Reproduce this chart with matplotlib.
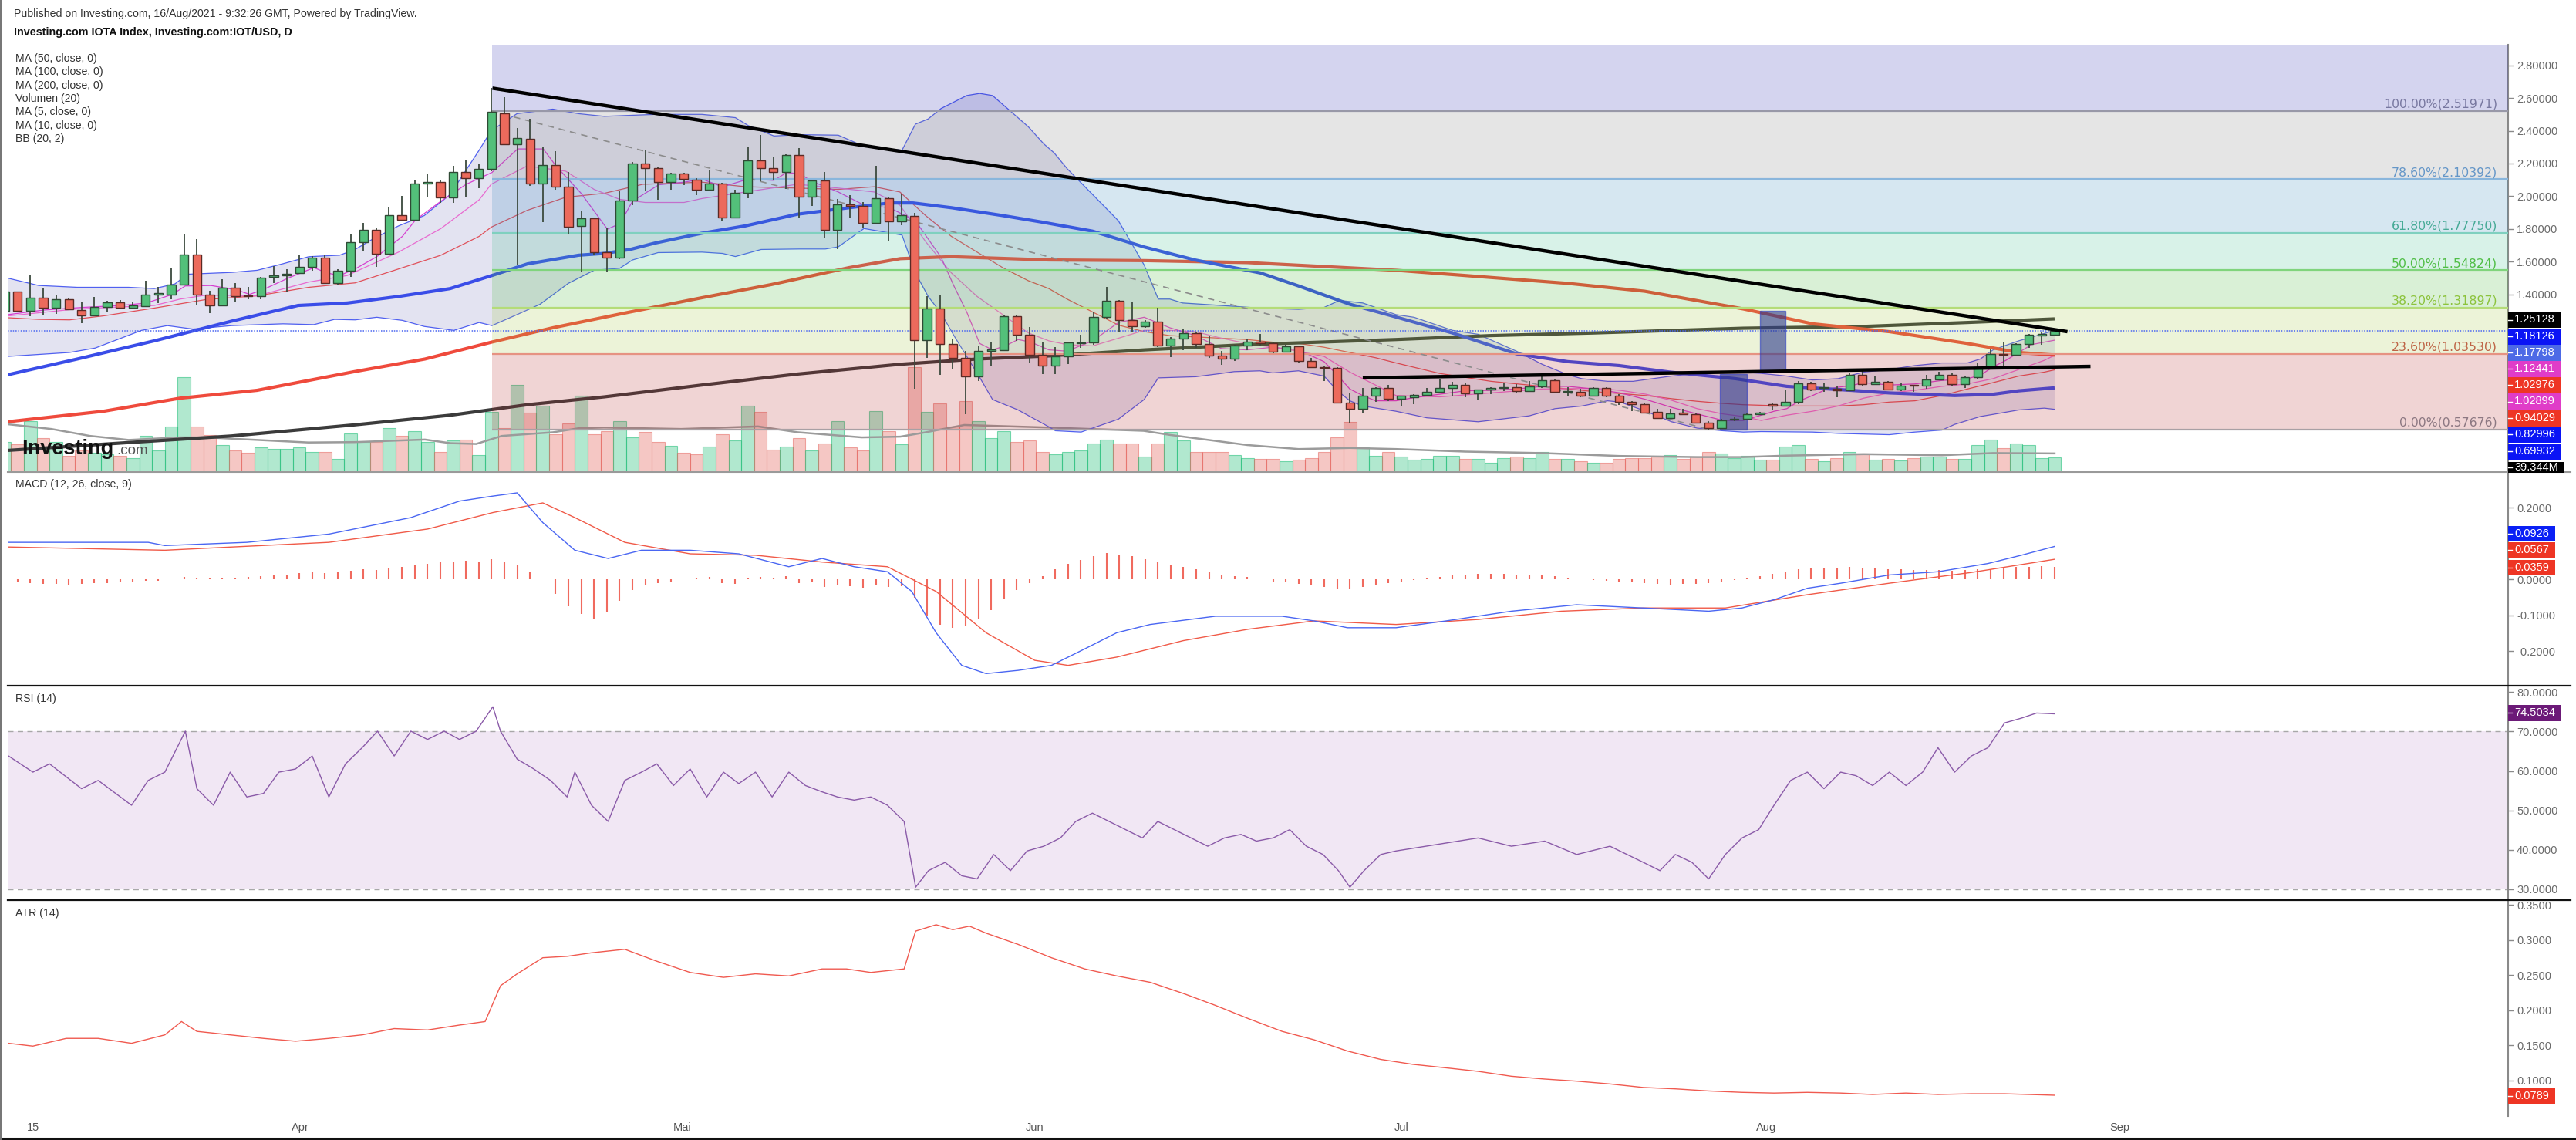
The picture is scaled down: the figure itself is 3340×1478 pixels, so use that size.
import numpy as np
import matplotlib
matplotlib.use("Agg")
import matplotlib.pyplot as plt
from matplotlib.patches import Rectangle
from matplotlib.lines import Line2D
import matplotlib.transforms as mtransforms

plt.rcParams['font.family'] = ['Liberation Sans', 'DejaVu Sans']

# ---------------- data (day index: 0 = 1 Mar 2021) ----------------
days = np.arange(8, 169)
opens = [1.301,1.417,1.301,1.380,1.321,1.369,1.305,1.274,1.325,1.352,1.320,1.329,1.401,1.401,1.460,1.646,1.401,1.333,1.443,1.392,
         1.388,1.506,1.516,1.532,1.568,1.624,1.471,1.545,1.720,1.795,1.651,1.886,1.858,2.077,2.089,1.994,2.148,2.109,2.166,2.504,
         2.320,2.352,2.077,2.191,2.058,1.819,1.865,1.659,1.627,1.975,2.201,2.172,2.089,2.140,2.102,2.038,2.077,1.871,2.021,2.218,
         2.172,2.148,2.252,1.999,2.094,1.795,1.949,1.941,1.839,1.987,1.846,1.878,1.122,1.315,1.097,1.011,0.898,1.057,1.062,1.269,
         1.153,1.030,0.966,1.022,1.101,1.109,1.264,1.360,1.242,1.205,1.235,1.086,1.133,1.165,1.097,1.025,1.006,1.086,1.114,1.101,
         1.051,1.082,0.993,0.958,0.950,0.740,0.703,0.783,0.827,0.764,0.775,0.788,0.804,0.831,0.850,0.794,0.820,0.827,0.834,0.812,
         0.839,0.878,0.805,0.807,0.783,0.827,0.783,0.743,0.732,0.684,0.647,0.678,0.671,0.615,0.584,0.635,0.639,0.671,0.730,0.722,
         0.743,0.858,0.827,0.826,0.815,0.910,0.851,0.866,0.820,0.847,0.843,0.883,0.907,0.851,0.894,0.958,1.038,1.030,1.097,1.149,1.153]
highs = [1.436,1.420,1.520,1.436,1.396,1.380,1.352,1.385,1.360,1.364,1.352,1.484,1.444,1.560,1.766,1.739,1.423,1.495,1.468,1.444,
         1.508,1.572,1.556,1.643,1.635,1.640,1.556,1.766,1.839,1.807,1.930,2.002,2.097,2.140,2.097,2.188,2.225,2.201,2.660,2.604,
         2.416,2.472,2.297,2.276,2.150,1.914,1.870,1.803,2.034,2.209,2.281,2.180,2.145,2.145,2.109,2.161,2.081,2.038,2.303,2.376,
         2.239,2.257,2.292,2.097,2.150,1.981,2.007,1.965,2.188,1.994,2.015,1.898,1.388,1.393,1.125,1.054,1.086,1.109,1.272,1.272,
         1.200,1.105,1.078,1.108,1.153,1.296,1.444,1.366,1.356,1.245,1.317,1.141,1.194,1.173,1.146,1.054,1.094,1.129,1.161,1.109,
         1.094,1.089,1.014,0.961,0.955,0.799,0.827,0.834,0.847,0.783,0.791,0.827,0.882,0.866,0.858,0.820,0.834,0.862,0.854,0.870,
         0.914,0.882,0.834,0.823,0.834,0.834,0.791,0.751,0.739,0.700,0.703,0.703,0.674,0.627,0.639,0.652,0.674,0.684,0.735,0.818,
         0.870,0.866,0.862,0.843,0.918,0.934,0.898,0.870,0.858,0.847,0.910,0.926,0.918,0.902,0.982,1.065,1.105,1.101,1.161,1.168,1.192]
lows = [1.293,1.293,1.269,1.277,1.280,1.305,1.224,1.269,1.293,1.312,1.309,1.325,1.348,1.372,1.458,1.340,1.285,1.331,1.356,1.369,
        1.369,1.468,1.420,1.528,1.545,1.468,1.460,1.508,1.664,1.568,1.643,1.855,1.854,1.991,1.959,1.959,1.991,2.050,2.153,2.317,
        1.583,2.062,1.843,2.042,1.768,1.536,1.640,1.536,1.615,1.946,2.032,1.978,2.042,2.067,2.007,2.034,1.850,1.866,1.986,2.093,
        2.097,2.045,1.869,1.941,1.742,1.678,1.869,1.806,1.834,1.728,1.823,0.826,1.014,0.907,0.945,0.671,0.870,0.966,1.057,1.117,
        0.987,0.914,0.914,0.977,1.073,1.094,1.253,1.173,1.168,1.197,1.081,1.019,1.062,1.073,1.014,0.971,0.993,1.058,1.090,1.043,
        1.046,0.982,0.950,0.870,0.735,0.615,0.679,0.743,0.748,0.722,0.732,0.783,0.799,0.780,0.772,0.759,0.791,0.812,0.796,0.807,
        0.831,0.799,0.783,0.775,0.780,0.775,0.727,0.687,0.674,0.639,0.643,0.666,0.611,0.5768,0.580,0.627,0.636,0.668,0.695,0.719,
        0.732,0.812,0.804,0.775,0.812,0.843,0.847,0.815,0.812,0.804,0.823,0.878,0.839,0.831,0.886,0.958,0.963,1.025,1.074,1.094,1.149]
closes = [1.420,1.301,1.380,1.321,1.369,1.309,1.274,1.325,1.352,1.320,1.333,1.401,1.407,1.460,1.646,1.401,1.333,1.443,1.388,1.388,
          1.505,1.519,1.524,1.568,1.624,1.471,1.545,1.720,1.795,1.651,1.886,1.855,2.077,2.089,1.994,2.148,2.109,2.166,2.515,2.320,
          2.355,2.077,2.191,2.058,1.814,1.865,1.659,1.627,1.975,2.201,2.172,2.089,2.140,2.105,2.038,2.077,1.871,2.021,2.218,2.172,
          2.148,2.252,1.999,2.094,1.795,1.949,1.941,1.839,1.987,1.846,1.882,1.122,1.315,1.097,1.014,0.898,1.057,1.065,1.269,1.153,
          1.030,0.966,1.022,1.105,1.109,1.264,1.360,1.242,1.205,1.235,1.086,1.133,1.165,1.097,1.025,1.006,1.086,1.114,1.101,1.051,
          1.082,0.993,0.955,0.950,0.740,0.703,0.783,0.827,0.764,0.780,0.788,0.804,0.831,0.850,0.794,0.818,0.827,0.834,0.812,0.839,
          0.878,0.807,0.812,0.783,0.827,0.783,0.743,0.732,0.679,0.647,0.676,0.671,0.615,0.584,0.631,0.639,0.671,0.678,0.722,0.743,
          0.858,0.820,0.831,0.815,0.910,0.851,0.866,0.820,0.843,0.843,0.883,0.907,0.851,0.894,0.958,1.038,1.030,1.097,1.153,1.157,1.178]
volume = [82,77,140,92,82,44,59,52,49,45,38,100,59,124,261,124,102,74,59,52,68,63,63,68,56,54,36,106,
          82,82,120,100,111,82,56,86,88,47,165,120,238,163,181,104,134,209,104,113,140,95,109,82,72,52,49,
          70,104,87,182,165,61,70,94,59,79,140,68,59,168,111,77,287,165,189,125,195,140,94,111,82,87,56,
          49,54,59,79,88,79,79,43,79,109,86,56,54,54,47,39,36,36,29,34,39,54,95,138,68,45,54,
          43,34,36,45,45,36,36,26,39,43,39,54,36,36,29,25,26,36,39,39,43,47,36,43,56,51,38,
          45,34,34,70,74,36,29,39,54,51,34,36,31,39,43,43,36,36,74,88,65,79,74,39,39.344]

vma_d = [8.24,11.65,14.66,17.67,21.7,23.7,27.7,31.7,35.3,40.8,42.8,44.8,46.8,50.8,52.8,54.8,60.8,66.8,69.9,74.9,
         77.9,79.9,82.9,89.5,96.9,98.9,105,109,113,116.6,122,128,134,140.1,143.7,147.1,153.1,159.2,163.2,168]
vma_v = [131,118,99,88,95,95,88,81,82,89,79,77,99,109,120,122,118,125,109,95,
         97,109,129,122,113,102,74,63,66,63,56,52,44,41,41,45,49,46,52,51]

ma50_d = [8.24,13.66,19.68,25.7,30.9,34.73,38.74,42.76,46.03,48.8,52.8,54.8,56.8,58.8,62.4,65.8,69.85,73.9,77.1,78.9,81.9,85.9,
          88.9,92.9,96.9,100.9,106,109,113,116.3,121,126,130,134,138,143.1,147.1,152.1,155.1,160.2,163.2,165.2,168]
ma50_v = [0.910,1.006,1.117,1.237,1.333,1.348,1.388,1.436,1.516,1.587,1.640,1.651,1.675,1.715,1.774,1.819,1.890,1.930,1.959,1.959,1.930,1.882,
          1.843,1.787,1.691,1.611,1.532,1.452,1.340,1.269,1.165,1.038,0.990,0.966,0.926,0.886,0.839,0.815,0.799,0.783,0.791,0.812,0.830]
ma100_d = [8.24,15.7,21.7,27.7,35.3,40.8,46.0,50.8,56.8,62.4,67.8,73.9,77.9,81.9,89.5,97,105,116.6,122,130,136,143.7,149.1,155.1,161.2,165.2,168]
ma100_v = [0.623,0.687,0.767,0.815,0.929,1.006,1.109,1.197,1.293,1.380,1.460,1.564,1.619,1.631,1.611,1.607,1.595,1.548,1.516,1.468,1.420,1.312,1.221,1.173,1.101,1.046,1.030]
ma200_d = [8.24,17.7,25.7,35.3,42.8,48.8,54.8,62.4,69.85,77.9,83.9,89.5,97,105,116.6,124,132,143.7,153.1,161.2,168]
ma200_v = [0.448,0.496,0.536,0.604,0.663,0.727,0.775,0.847,0.914,0.974,1.006,1.025,1.062,1.094,1.125,1.149,1.165,1.194,1.205,1.229,1.251]

bbu_d = [8.24,10.65,13.66,17.67,19.68,21.29,22.29,25.71,27.71,29.72,31.73,34.14,35.35,36.74,38.74,40.75,42.76,45.03,45.97,47.98,
         50.78,52.8,54.8,58.81,62.42,65.03,66.03,68.04,70.05,73.06,75.07,78.04,79.08,80.08,81.09,83.09,84.1,85.1,86.5,87.9,
         89.1,89.91,90.92,92.92,94.93,96.94,98.04,98.94,99.95,102.96,105.97,108.98,110.98,112.19,114.0,116.6,118.0,121.0,123.0,126.0,
         128.0,130.0,131.1,133.1,135.1,138.1,140.1,143.7,145.1,147.1,149.1,151.1,153.1,155.1,157.1,159.2,161.2,162.2,163.2,165.2,167.2,168.0]
bbu_v = [1.500,1.455,1.444,1.444,1.436,1.465,1.524,1.535,1.548,1.588,1.631,1.640,1.675,1.739,1.819,1.882,2.010,2.281,2.400,2.504,
         2.532,2.504,2.488,2.500,2.500,2.480,2.432,2.368,2.376,2.373,2.305,2.281,2.440,2.472,2.536,2.615,2.628,2.615,2.520,2.424,
         2.320,2.265,2.169,2.010,1.850,1.580,1.372,1.372,1.348,1.333,1.317,1.309,1.321,1.364,1.348,1.277,1.261,1.181,1.157,1.054,
         0.974,0.910,0.886,0.870,0.870,0.902,0.918,0.926,0.918,0.902,0.878,0.886,0.926,0.942,0.966,0.982,0.982,1.006,1.062,1.117,1.162,1.181]
bbl_d = [8.24,13.06,15.06,18.68,20.69,22.69,25.71,29.72,32.13,33.74,35.35,37.04,39.04,40.75,43.06,45.03,46.03,47.98,49.78,51.99,
         54.0,56.0,57.0,59.0,62.42,64.03,65.03,67.04,70.05,72.05,73.06,75.07,78.04,79.08,80.08,81.09,82.09,83.09,84.1,85.1,
         87.1,89.5,90.01,92.02,94.93,96.94,98.04,100.95,102.96,103.96,105.97,106.97,108.98,110.98,111.99,112.99,114.0,116.6,119.0,123.0,
         127.0,129.0,131.1,133.1,134.1,136.1,138.1,140.1,142.1,143.7,145.1,149.1,151.1,155.1,157.1,159.2,160.2,162.2,163.2,165.2,167.2,168.0]
bbl_v = [1.022,1.046,1.073,1.181,1.210,1.189,1.210,1.221,1.216,1.248,1.245,1.261,1.242,1.205,1.181,1.229,1.210,1.277,1.340,1.468,
         1.548,1.560,1.611,1.656,1.659,1.651,1.632,1.675,1.678,1.678,1.691,1.803,1.763,1.532,1.388,1.285,1.149,1.022,0.894,0.759,
         0.695,0.592,0.568,0.560,0.639,0.759,0.891,0.898,0.918,0.929,0.934,0.921,0.934,0.902,0.815,0.751,0.719,0.687,0.647,0.623,
         0.659,0.703,0.719,0.751,0.743,0.687,0.623,0.584,0.568,0.560,0.563,0.560,0.552,0.544,0.560,0.572,0.607,0.655,0.668,0.695,0.706,0.699]
bbm_d = [8.24,10.65,13.06,15.67,19.68,23.70,27.71,31.73,35.35,38.74,42.05,45.03,45.97,48.78,51.79,54.8,57.81,62.42,65.83,69.85,
         73.06,75.87,77.87,79.88,81.89,83.9,85.9,87.9,89.5,90.92,92.92,94.93,96.94,98.94,100.95,104.96,106.97,108.98,110.98,112.99,
         115.0,116.6,120.0,124.0,128.0,132.1,136.1,138.1,140.1,142.1,143.7,147.1,151.1,153.1,155.1,157.1,159.2,161.2,163.2,165.2,167.2,168.0]
bbm_v = [1.258,1.248,1.245,1.269,1.317,1.369,1.392,1.444,1.471,1.556,1.640,1.755,1.811,1.914,1.994,2.018,2.073,2.086,2.058,2.050,
         2.042,2.058,2.026,1.882,1.755,1.659,1.564,1.484,1.436,1.372,1.293,1.213,1.173,1.149,1.141,1.125,1.109,1.101,1.078,1.046,
         1.014,0.982,0.918,0.870,0.839,0.807,0.783,0.764,0.748,0.735,0.727,0.719,0.719,0.727,0.743,0.751,0.783,0.823,0.862,0.902,0.926,0.940]
ma5_d = [8.24,11.05,14.06,17.07,19.08,21.09,22.09,24.10,26.11,27.11,28.12,30.12,32.13,33.14,34.14,35.35,37.04,39.04,40.05,42.05,
         44.02,46.03,48.04,50.04,51.03,52.99,55.04,56.04,57.0,59.05,61.02,62.42,64.03,66.03,68.04,69.04,70.05,71.05,72.05,73.06,
         75.07,77.07,79.08,81.09,82.09,83.09,84.1,85.1,86.1,87.1,88.1,89.5,90.92,92.92,94.93,96.94,98.94,100.95,102.96,104.96,
         106.97,108.98,110.98,111.99,112.99,114.0,115.0,116.6,118.0,120.0,122.0,124.0,126.0,128.0,130.0,132.1,134.1,136.1,138.1,140.1,
         142.1,143.7,145.1,146.1,147.1,148.1,149.1,150.1,151.1,152.1,153.1,155.1,157.1,159.2,161.2,162.2,163.2,164.2,165.2,166.2,167.2,168.0]
ma5_v = [1.277,1.305,1.321,1.333,1.348,1.401,1.452,1.455,1.428,1.401,1.428,1.500,1.564,1.532,1.516,1.556,1.631,1.755,1.854,1.970,
         2.073,2.145,2.289,2.289,2.185,2.018,1.799,1.834,1.970,2.070,2.086,2.105,2.058,2.105,2.097,2.145,2.137,2.089,2.058,2.026,
         1.946,1.930,1.850,1.627,1.452,1.293,1.101,1.062,1.086,1.125,1.109,1.062,1.054,1.117,1.229,1.261,1.197,1.149,1.070,1.062,
         1.078,1.062,0.990,0.910,0.823,0.783,0.751,0.751,0.770,0.791,0.812,0.815,0.823,0.839,0.839,0.823,0.799,0.759,0.711,0.671,
         0.631,0.631,0.663,0.687,0.703,0.751,0.783,0.818,0.834,0.843,0.862,0.847,0.854,0.875,0.886,0.907,0.958,0.998,1.046,1.094,1.109,1.121]
ma10_d = [8.24,13.66,19.68,21.69,23.70,27.71,31.73,34.73,38.74,42.05,45.03,45.97,48.78,51.79,54.0,56.0,58.0,61.02,62.42,65.83,
          69.85,73.06,75.87,77.87,79.88,81.89,83.9,85.9,87.9,89.5,90.92,92.92,94.93,96.94,98.94,100.95,102.96,104.96,106.97,108.98,
          110.98,112.99,115.0,116.6,120.0,124.0,128.0,132.1,134.1,136.1,138.1,140.1,142.1,143.7,145.1,147.1,149.1,151.1,153.1,155.1,
          157.1,159.2,161.2,163.2,165.2,167.2,168.0]
ma10_v = [1.269,1.312,1.333,1.372,1.396,1.392,1.476,1.516,1.659,1.803,1.978,2.073,2.185,2.153,2.042,1.981,1.962,1.962,1.986,2.026,
          2.073,2.050,2.026,1.946,1.723,1.532,1.388,1.277,1.165,1.117,1.094,1.086,1.133,1.181,1.181,1.173,1.133,1.101,1.078,1.054,
          1.022,0.926,0.847,0.783,0.775,0.799,0.823,0.827,0.815,0.791,0.754,0.703,0.671,0.655,0.631,0.663,0.687,0.719,0.767,0.799,
          0.815,0.839,0.854,0.886,0.942,0.998,1.029]

fib_levels = [0.57676, 1.03530, 1.31897, 1.54824, 1.77750, 2.10392, 2.51971]
fib_names = ['0.00%', '23.60%', '38.20%', '50.00%', '61.80%', '78.60%', '100.00%']

macd_d = [8.3,19.2,20.5,26.9,33.3,39.7,43.5,46.1,48.0,50.0,52.5,55.1,57.7,61.5,65.3,69.2,71.8,74.3,76.9,78.8,
          80.7,82.7,84.6,87.1,89.7,92.3,94.8,97.4,102.5,107.7,110.2,112.8,116.6,120.5,125.6,130.7,135.9,141.0,143.6,146.1,
          148.7,151.3,155.1,158.9,162.8,165.4,168.0]
macd_v = [0.104,0.104,0.095,0.104,0.127,0.173,0.219,0.233,0.242,0.159,0.082,0.059,0.082,0.082,0.072,0.036,0.059,0.036,0.022,-0.033,
          -0.148,-0.239,-0.262,-0.253,-0.239,-0.193,-0.148,-0.125,-0.102,-0.102,-0.115,-0.134,-0.134,-0.115,-0.088,-0.070,-0.079,-0.088,-0.079,-0.056,
          -0.024,-0.010,0.013,0.022,0.045,0.068,0.0926]
sig_d = [8.3,20.5,33.3,41.0,46.1,50.0,52.5,56.4,61.5,66.6,71.8,76.9,80.7,84.6,88.4,91.0,94.8,100.0,105.1,110.2,
         116.6,123.0,129.5,135.9,142.3,148.7,155.1,161.5,168.0]
sig_v = [0.091,0.082,0.104,0.141,0.187,0.214,0.173,0.104,0.072,0.068,0.049,0.036,-0.033,-0.148,-0.225,-0.239,-0.216,-0.170,-0.138,-0.115,
         -0.125,-0.111,-0.088,-0.079,-0.079,-0.042,-0.010,0.020,0.0567]
hist = [-0.005,-0.008,-0.010,-0.012,-0.012,-0.013,-0.012,-0.010,-0.010,-0.008,-0.006,-0.004,-0.003,
        0.002,0.008,0.005,0.003,0.004,0.006,
        0.008,0.010,0.012,0.015,0.018,0.020,0.018,0.020,0.025,0.028,0.027,0.033,0.035,0.040,0.045,0.048,0.050,0.052,0.050,0.058,
        0.050,0.040,0.020,0.000,
        -0.040,-0.075,-0.095,-0.110,-0.090,-0.060,
        -0.030,-0.015,-0.010,-0.005,0.000,0.005,0.008,
        -0.010,-0.012,0.005,0.008,0.005,0.010,-0.010,-0.005,-0.020,-0.015,-0.018,-0.022,-0.015,-0.020,-0.018,
        -0.050,-0.100,-0.125,-0.135,-0.130,-0.110,-0.085,-0.055,
        -0.030,-0.010,0.010,0.030,0.045,0.055,
        0.065,0.075,0.070,0.065,0.058,0.050,0.042,
        0.035,0.030,0.022,0.015,0.010,0.008,0.002,-0.005,-0.008,-0.012,-0.015,-0.020,-0.025,-0.025,-0.020,-0.015,
        -0.010,-0.005,-0.002,0.003,0.008,0.012,0.015,0.016,0.017,0.016,0.015,0.014,0.012,0.010,0.006,0.002,-0.002,-0.004,-0.006,-0.008,-0.010,
        -0.012,-0.013,-0.012,-0.012,-0.010,-0.006,-0.002,0.004,
        0.010,0.016,0.022,0.028,0.032,0.034,0.034,0.035,0.034,0.032,0.030,0.028,0.026,0.026,0.026,0.025,0.026,0.028,0.030,0.033,0.035,0.036,0.037,0.036]

rsi_d = [8.3,10.2,11.5,14.0,15.3,17.9,19.2,20.5,22.1,23.0,24.3,25.6,26.9,28.2,29.4,30.7,32.0,33.3,34.6,35.9,
         37.1,38.4,39.7,41.0,42.3,43.5,44.8,46.1,46.7,48.0,49.3,50.6,51.9,52.5,53.8,55.1,56.4,57.7,58.9,60.2,
         61.5,62.8,64.1,65.3,66.6,67.9,69.2,70.5,71.8,73.0,74.3,75.6,76.9,78.2,79.1,80.1,81.4,82.7,83.9,85.2,
         86.5,87.8,89.1,90.4,91.6,92.9,94.2,95.5,96.8,98.0,99.3,100.6,101.9,103.2,104.5,105.7,107.0,108.3,109.6,110.9,
         112.1,113.0,114.1,115.4,116.6,123.0,125.6,128.2,130.7,133.3,135.9,137.2,138.4,139.7,141.0,142.3,143.6,144.9,146.1,147.4,
         148.7,150.0,151.3,152.5,153.8,155.1,156.4,157.7,158.9,160.2,161.5,162.8,164.1,165.4,166.6,168.0]
rsi_v = [63.8,59.7,61.8,55.5,57.6,51.3,57.6,59.7,70.1,55.5,51.3,59.7,53.4,54.3,59.7,60.5,63.8,53.4,61.8,65.9,
         70.1,63.8,70.1,68.0,70.1,68.0,70.1,76.3,70.1,63.0,60.5,57.6,53.4,59.7,51.3,47.2,57.6,59.7,61.8,56.3,
         60.5,53.4,59.7,56.8,59.7,53.4,59.7,56.3,54.7,53.4,52.6,53.4,51.3,47.2,30.5,34.7,36.8,33.4,32.6,38.8,
         34.7,39.7,40.9,43.0,47.2,49.3,47.2,45.1,43.0,47.2,45.1,43.0,40.9,43.0,43.9,42.2,43.0,45.1,40.9,38.8,
         34.7,30.5,34.7,38.8,39.7,43.0,40.9,42.2,38.8,40.9,36.8,34.7,38.8,36.8,32.6,38.8,43.0,45.1,51.3,57.6,
         59.7,55.5,59.7,58.8,56.3,59.7,56.3,59.7,65.9,59.7,63.8,65.9,72.2,73.4,74.7,74.5]

atr_d = [8.3,10.2,12.8,15.3,17.9,20.5,21.8,23.0,25.6,28.2,30.7,33.3,35.9,38.4,41.0,43.5,45.5,46.7,48.0,50.0,
         51.9,53.8,56.4,58.9,61.5,64.1,66.6,69.2,71.8,73.7,75.6,78.2,79.1,80.7,82.0,83.3,84.6,87.1,89.7,92.3,
         94.8,97.4,100.0,102.5,105.1,107.7,110.2,112.8,115.4,117.9,120.5,123.0,125.6,128.2,130.7,133.3,135.9,138.4,141.0,143.6,
         146.1,148.7,151.3,153.8,156.4,158.9,161.5,164.1,168.0]
atr_v = [0.153,0.149,0.160,0.160,0.153,0.165,0.184,0.170,0.165,0.160,0.156,0.160,0.165,0.174,0.172,0.179,0.184,0.235,0.252,0.275,
         0.277,0.282,0.287,0.270,0.254,0.247,0.252,0.249,0.259,0.259,0.254,0.259,0.313,0.322,0.315,0.320,0.310,0.294,0.275,0.259,
         0.249,0.240,0.224,0.207,0.188,0.170,0.158,0.142,0.130,0.123,0.118,0.113,0.106,0.102,0.099,0.095,0.090,0.088,0.085,0.083,
         0.082,0.083,0.082,0.080,0.082,0.080,0.081,0.081,0.0789]

xtick_pos = [10.2, 31.1, 60.9, 88.4, 117.0, 145.5, 173.1]
xtick_lab = ['15', 'Apr', 'Mai', 'Jun', 'Jul', 'Aug', 'Sep']

legend_lines = ['MA (50, close, 0)', 'MA (100, close, 0)', 'MA (200, close, 0)', 'Volumen (20)',
                'MA (5, close, 0)', 'MA (10, close, 0)', 'BB (20, 2)']

# ---------------- figure / layout ----------------
W, H = 3340, 1478
fig = plt.figure(figsize=(W / 100, H / 100), dpi=100)
fig.patch.set_facecolor('white')

def rect(x0, y0, x1, y1):
    return [x0 / W, 1 - y1 / H, (x1 - x0) / W, (y1 - y0) / H]

XL, XR = 8.235, 203.4
PX0, PX1 = 10, 3252
AXC = '#8a8a8a'
TXT = '#6a6a6a'

def style(a, ticks, fmt):
    a.set_xlim(XL, XR)
    a.yaxis.tick_right()
    a.set_yticks(ticks)
    a.set_yticklabels([fmt % t for t in ticks])
    a.tick_params(axis='y', length=5, width=1, color=AXC, labelcolor=TXT, labelsize=10.5, pad=3)
    a.tick_params(axis='x', length=0, labelbottom=False)
    for s in ['top', 'left', 'bottom']:
        a.spines[s].set_visible(False)
    a.spines['right'].set_color(AXC)
    a.spines['right'].set_linewidth(1.5)

opens = np.array(opens); highs = np.array(highs); lows = np.array(lows); closes = np.array(closes)
volume = np.array(volume)
up = closes >= opens

# volume axes (behind)
axv = fig.add_axes(rect(PX0, 58, PX1, 612))
axv.set_xlim(XL, XR)
axv.set_ylim(0, 1171)
axv.axis('off')
vface = [(0.11, 0.74, 0.46, 0.34) if u else (0.89, 0.36, 0.33, 0.34) for u in up]
vedge = [(0.11, 0.74, 0.46, 0.55) if u else (0.89, 0.36, 0.33, 0.5) for u in up]
axv.bar(days, volume, width=1.0, color=vface, edgecolor=vedge, linewidth=0.8)
axv.plot(vma_d, vma_v, color='#9b9b9b', lw=1.8)

# price axes
ax = fig.add_axes(rect(PX0, 58, PX1, 612))
ax.set_facecolor('none')
style(ax, [1.4, 1.6, 1.8, 2.0, 2.2, 2.4, 2.6, 2.8], '%.5f')
ax.set_ylim(0.3158, 2.9253)

# Bollinger fill + lines
ax.fill(list(bbu_d) + list(bbl_d[::-1]), list(bbu_v) + list(bbl_v[::-1]),
        color=(0.36, 0.36, 0.68), alpha=0.17, lw=0, zorder=1)
ax.plot(bbu_d, bbu_v, color='#5060f0', lw=0.9, zorder=2)
ax.plot(bbl_d, bbl_v, color='#5060f0', lw=0.9, zorder=2)
ax.plot(bbm_d, bbm_v, color='#e0505a', lw=0.9, zorder=2)
ax.plot(ma10_d, ma10_v, color='#e86ad0', lw=0.9, zorder=2)
ax.plot(ma5_d, ma5_v, color='#d63fd0', lw=0.9, zorder=2)

# moving averages
ax.plot(ma200_d, ma200_v, color='#3b3b3b', lw=3.0, zorder=2, solid_capstyle='butt')
ax.plot(ma100_d, ma100_v, color='#ef4a3c', lw=3.0, zorder=2, solid_capstyle='butt')
ax.plot(ma50_d, ma50_v, color='#3a4de8', lw=3.0, zorder=2, solid_capstyle='butt')

# Fibonacci retracement zones
fib_start = 46.04
zone_cols = [(0.71, 0.16, 0.16), (0.63, 0.78, 0.24), (0.27, 0.72, 0.2), (0.25, 0.75, 0.55),
             (0.2, 0.53, 0.73), (0.49, 0.49, 0.49), (0.16, 0.16, 0.7)]
bounds = fib_levels + [2.9253]
for i in range(7):
    ax.add_patch(Rectangle((fib_start, bounds[i]), XR - fib_start, bounds[i + 1] - bounds[i],
                           facecolor=zone_cols[i], alpha=0.2, lw=0, zorder=3))
line_cols = ['#a8a0a4', '#e69282', '#b4dc78', '#80d47c', '#7fd0bf', '#8ab6dc', '#9898a8']
lab_cols = ['#8c7882', '#be6446', '#8cc33c', '#50be46', '#46aa96', '#6496c8', '#7878a0']
btr = mtransforms.blended_transform_factory(ax.transAxes, ax.transData)
for lv, nm, lc, tc in zip(fib_levels, fib_names, line_cols, lab_cols):
    ax.hlines(lv, fib_start, XR, color=lc, lw=1.6, zorder=4)
    ax.text((3238 - PX0) / (PX1 - PX0), lv + 0.006, '%s(%.5f)' % (nm, lv), transform=btr,
            ha='right', va='bottom', color=tc, fontsize=11.3, family='DejaVu Sans', zorder=9)

# fib trend (dashed), current price line
ax.plot([46.0, 141.0], [2.51971, 0.57676], color='#8c8c8c', lw=1.2, ls=(0, (5, 4)), zorder=5)
ax.axhline(1.17798, color='#4a66f0', lw=1.1, ls=(0, (1, 1.2)), zorder=5)

# projection boxes
ax.add_patch(Rectangle((141.9, 0.576), 2.1, 0.914 - 0.576, facecolor=(0.17, 0.22, 0.55), alpha=0.6,
                       edgecolor='#2838c0', lw=1.0, zorder=6))
ax.add_patch(Rectangle((145.0, 0.939), 2.0, 1.301 - 0.939, facecolor=(0.17, 0.22, 0.55), alpha=0.6,
                       edgecolor='#2838c0', lw=1.0, zorder=6))

# candles
ax.vlines(days, lows, highs, color='#3c4a3e', lw=1.3, zorder=7)
body_lo = np.minimum(opens, closes)
body_h = np.maximum(np.abs(closes - opens), 0.005)
ax.bar(days, body_h, bottom=body_lo, width=0.68,
       color=['#53c07a' if u else '#ec6a5c' for u in up],
       edgecolor=['#2f4a35' if u else '#5a2a25' for u in up], linewidth=1.0, zorder=8)

# trend lines
ax.plot([46.07, 169.0], [2.66, 1.173], color='black', lw=3.2, zorder=9, solid_capstyle='butt')
ax.plot([114.0, 170.8], [0.891, 0.961], color='black', lw=3.2, zorder=9, solid_capstyle='butt')

# ---- MACD ----
axm = fig.add_axes(rect(PX0, 612, PX1, 889))
style(axm, [0.2, 0.0, -0.1, -0.2], '%.4f')
axm.set_ylim(-0.2957, 0.300)
axm.vlines(days, 0, hist, color='#f06a5e', lw=1.5)
axm.plot(sig_d, sig_v, color='#f05a48', lw=1.0)
axm.plot(macd_d, macd_v, color='#4a66f2', lw=1.0)

# ---- RSI ----
axr = fig.add_axes(rect(PX0, 889, PX1, 1167))
style(axr, [80, 70, 60, 50, 40, 30], '%.4f')
axr.set_ylim(27.22, 81.64)
axr.axhspan(30, 70, color=(0.6, 0.3, 0.68), alpha=0.13, lw=0)
axr.axhline(70, color='#a8a8a8', lw=1.0, ls=(0, (5, 4)))
axr.axhline(30, color='#a8a8a8', lw=1.0, ls=(0, (5, 4)))
axr.plot(rsi_d, rsi_v, color='#8a5aa8', lw=1.0)

# ---- ATR ----
axa = fig.add_axes(rect(PX0, 1167, PX1, 1447))
style(axa, [0.35, 0.30, 0.25, 0.20, 0.15, 0.10], '%.4f')
axa.set_ylim(0.0492, 0.3571)
axa.plot(atr_d, atr_v, color='#f05a50', lw=1.0)
axa.set_xticks(xtick_pos)
axa.set_xticklabels(xtick_lab)
axa.tick_params(axis='x', length=0, pad=6, labelsize=10.5, labelcolor='#555555', labelbottom=True)

# ---------------- frame lines ----------------
def hline(y, x0, x1, color, lw):
    fig.add_artist(Line2D([x0 / W, x1 / W], [1 - y / H, 1 - y / H], transform=fig.transFigure, color=color, lw=lw))

def vline(x, y0, y1, color, lw):
    fig.add_artist(Line2D([x / W, x / W], [1 - y0 / H, 1 - y1 / H], transform=fig.transFigure, color=color, lw=lw))

hline(612, PX0, 3333, '#9a9a9a', 1.5)
hline(889, PX0, 3333, '#111111', 1.6)
hline(1167, PX0, 3333, '#111111', 1.6)
hline(1476, 0, W, '#111111', 2.2)
vline(1.2, 0, H, '#777777', 1.5)

# ---------------- right-side value boxes ----------------
def label_box(yc, text, color, x1=3321, h=21, clip_bottom=None):
    x0 = 3252
    fig.add_artist(Rectangle((x0 / W, 1 - (yc + h / 2) / H), (x1 - x0) / W, h / H, transform=fig.transFigure,
                             facecolor=color, edgecolor='none', zorder=20))
    fig.add_artist(Line2D([x0 / W, (x0 + 5) / W], [1 - yc / H] * 2, transform=fig.transFigure,
                          color='white', lw=1, zorder=21))
    t = fig.text((x0 + 8) / W, 1 - yc / H, text, color='white', fontsize=10.5, ha='left', va='center', zorder=22)
    if clip_bottom is not None:
        bb = mtransforms.Bbox.from_extents(x0, H - clip_bottom, x1 + 10, H - (yc - h))
        t.set_clip_box(mtransforms.TransformedBbox(bb, mtransforms.IdentityTransform()))
        t.set_clip_on(True)

for yc, tx, col in [(414.5, '1.25128', '#000000'), (436, '1.18126', '#0a14f5'), (457, '1.17798', '#4d6ae6'),
                    (478, '1.12441', '#e03cc8'), (499, '1.02976', '#ee3524'), (520.5, '1.02899', '#e03cc8'),
                    (542, '0.94029', '#ee3524'), (563.5, '0.82996', '#0a14f5'), (585, '0.69932', '#0a14f5')]:
    label_box(yc, tx, col)
label_box(606, '39.344M', '#000000', x1=3325, h=14, clip_bottom=612)
for yc, tx, col in [(692, '0.0926', '#0a20f5'), (713, '0.0567', '#ee3524'), (736, '0.0359', '#ee3524')]:
    label_box(yc, tx, col, x1=3313, h=20)
label_box(924, '74.5034', '#6c1a78', x1=3321, h=21)
label_box(1421, '0.0789', '#ee3524', x1=3313, h=20)

# ---------------- texts ----------------
fig.text(18 / W, 1 - 18 / H, 'Published on Investing.com, 16/Aug/2021 - 9:32:26 GMT, Powered by TradingView.',
         fontsize=10.2, color='#333333', va='center', ha='left')
fig.text(18 / W, 1 - 42 / H, 'Investing.com IOTA Index, Investing.com:IOT/USD, D',
         fontsize=10.4, color='#111111', va='center', ha='left', fontweight='bold')
for i, s in enumerate(legend_lines):
    fig.text(20 / W, 1 - (76 + 17.3 * i) / H, s, fontsize=10.2, color='#333333', va='center', ha='left')
fig.text(20 / W, 1 - 628 / H, 'MACD (12, 26, close, 9)', fontsize=10.2, color='#333333', va='center', ha='left')
fig.text(20 / W, 1 - 906 / H, 'RSI (14)', fontsize=10.2, color='#333333', va='center', ha='left')
fig.text(20 / W, 1 - 1184 / H, 'ATR (14)', fontsize=10.2, color='#333333', va='center', ha='left')
fig.text(28 / W, 1 - 589 / H, 'Investing', fontsize=19.5, fontweight='bold', color='#111111', va='baseline', ha='left')
fig.text(151 / W, 1 - 589 / H, '.com', fontsize=13.5, color='#555555', va='baseline', ha='left')

fig.savefig('out.png', dpi=100, facecolor='white')
